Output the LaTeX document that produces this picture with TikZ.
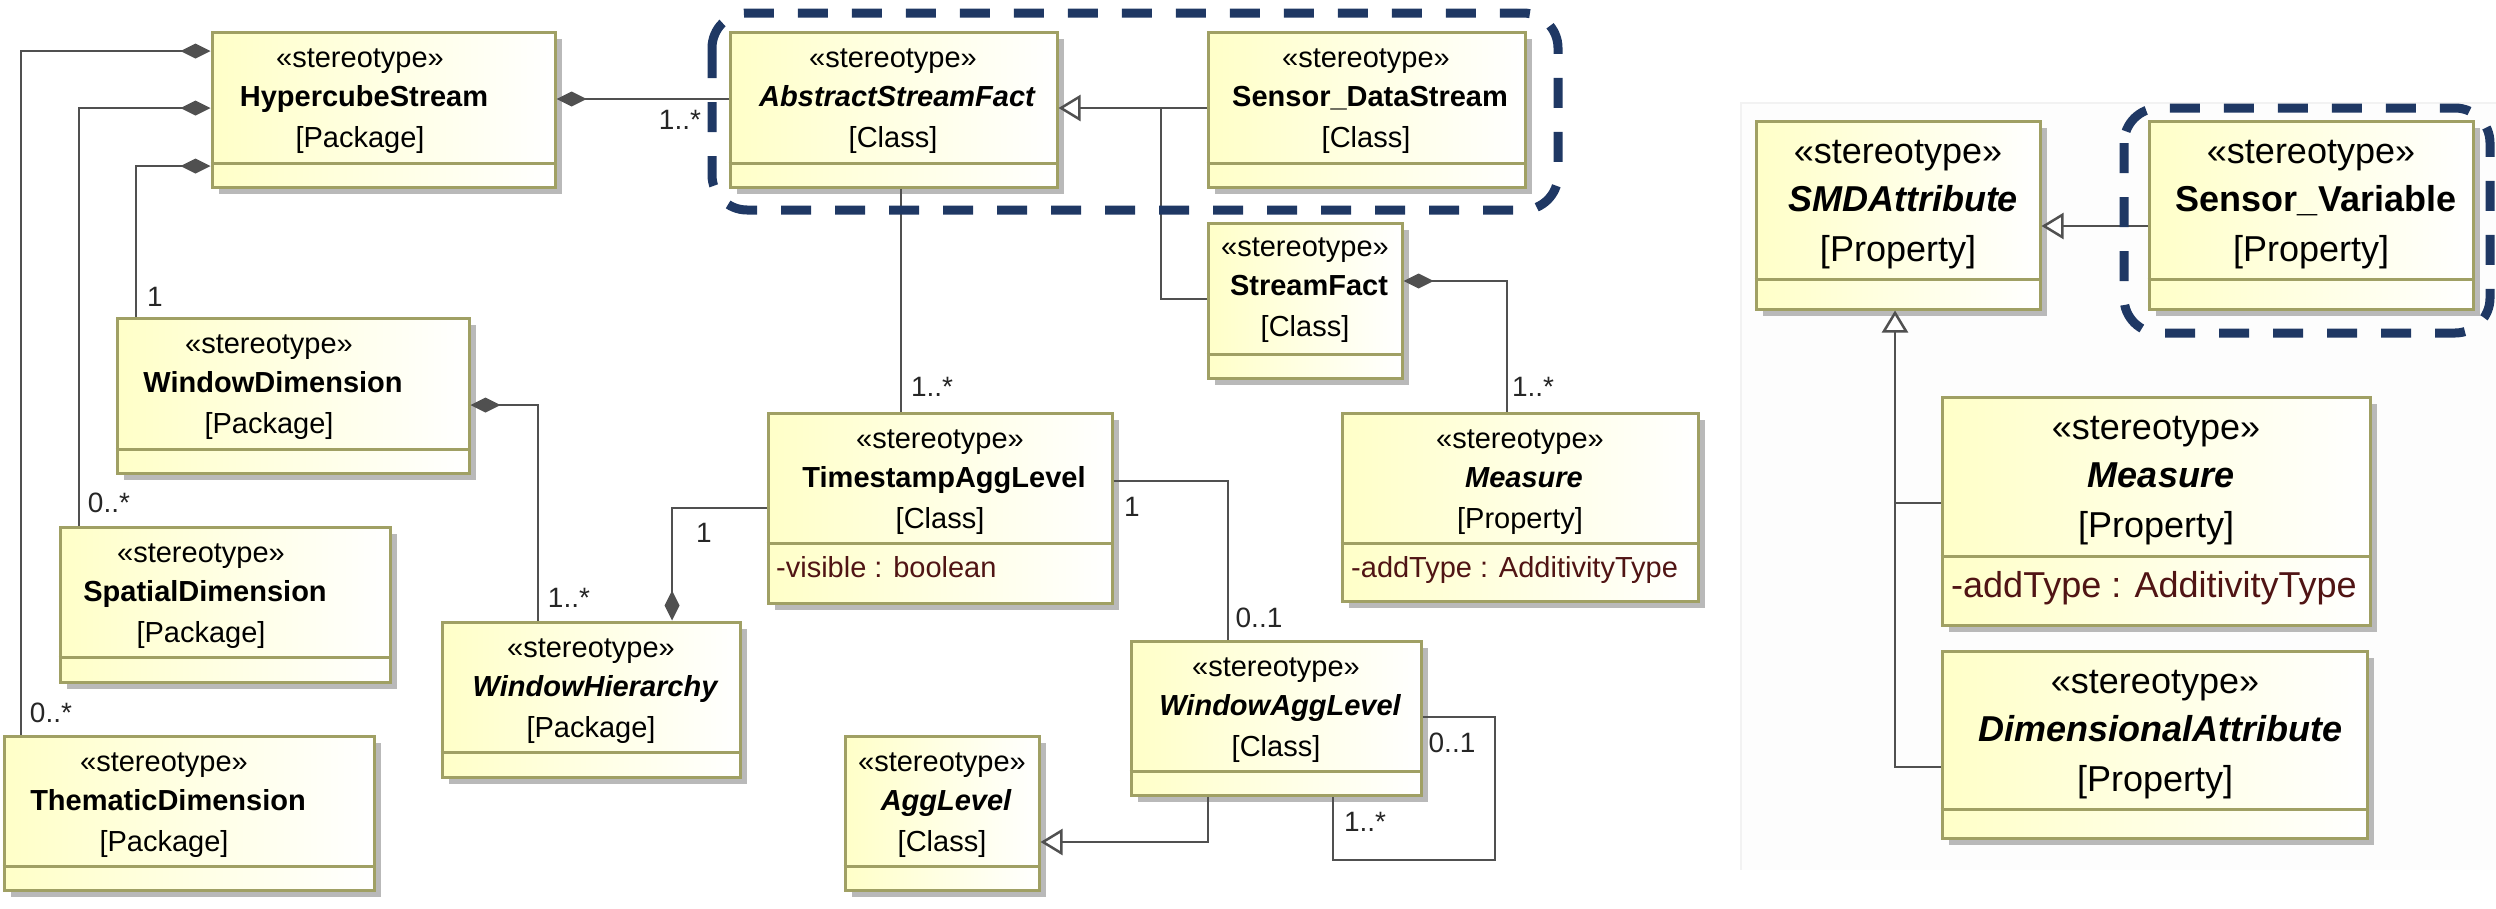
\documentclass[tikz,border=0pt]{standalone}
\usepackage{fontspec}
\setmainfont{Liberation Sans}
\usetikzlibrary{arrows.meta,shadows,fit}
\definecolor{boxyellow}{RGB}{255,255,200}
\definecolor{boxborder}{RGB}{160,160,100}
\definecolor{shadowgray}{RGB}{185,185,185}
\definecolor{linegray}{RGB}{80,80,80}
\definecolor{navy}{RGB}{31,56,100}
\definecolor{attrcolor}{RGB}{80,20,20}
\definecolor{panelgray}{RGB}{253,253,253}
\definecolor{paneledge}{RGB}{242,242,242}
\tikzset{
  umlbox/.style={draw=boxborder, line width=3pt, left color=boxyellow, right color=white, inner sep=0pt,
    drop shadow={shadow xshift=7pt, shadow yshift=-7pt, fill=shadowgray, opacity=1}},
  divider/.style={draw=boxborder, line width=3pt},
  ltxt/.style={font=\fontsize{29}{34}\selectfont, inner sep=0pt, text height=21pt, text depth=6pt, anchor=center},
  rtxt/.style={font=\fontsize{36}{42}\selectfont, inner sep=0pt, text height=26pt, text depth=8pt, anchor=center},
  conn/.style={draw=linegray, line width=2.5pt},
  comp/.style={conn, {Diamond[length=30pt,width=15pt,fill=linegray]}-},
  compend/.style={conn, -{Diamond[length=30pt,width=15pt,fill=linegray]}},
  gen/.style={conn, -{Triangle[open,length=22pt,width=26pt,fill=white]}},
  mult/.style={font=\fontsize{28}{32}\selectfont, inner sep=0pt, text=black!85},
  lattr/.style={ltxt, text=attrcolor, anchor=west},
  rattr/.style={rtxt, text=attrcolor, anchor=west},
  grp/.style={draw=navy, line width=9pt, dash pattern=on 30pt off 24pt, rounded corners=35pt},
}
\newcommand{\ltext}[6]{%
  \node[ltxt] (#1-st) at (#2,{#3+28}) {«stereotype»};
  \node[ltxt] (#1-nm) at (#2,{#3+67}) {#4 #5};
  \node[ltxt] (#1-ty) at (#2,{#3+108}) {[#6]};
}
\newcommand{\rtext}[6]{%
  \node[rtxt] (#1-st) at (#2,{#3+33}) {«stereotype»};
  \node[rtxt] (#1-nm) at (#2,{#3+81}) {#4 #5};
  \node[rtxt] (#1-ty) at (#2,{#3+131}) {[#6]};
}
\begin{document}
\begin{tikzpicture}[x=1pt,y=-1pt]
\useasboundingbox (0,0) rectangle (2496,908);
\fill[panelgray] (1741,103) rectangle (2496,870);
\draw[paneledge, line width=1.5pt] (1741,870) -- (1741,103) -- (2496,103);

% boxes
\node[umlbox, fit={(212,32) (555,187)}] (hs) {};
\draw[divider] (hs.west |- 0,163) -- (hs.east |- 0,163);
\ltext{hs}{360}{32}{\bfseries}{HypercubeStream}{Package}

\node[umlbox, fit={(730,32) (1057,187)}] (asf) {};
\draw[divider] (asf.west |- 0,163) -- (asf.east |- 0,163);
\ltext{asf}{893}{32}{\bfseries\itshape}{AbstractStreamFact}{Class}

\node[umlbox, fit={(1208,32) (1525,187)}] (sds) {};
\draw[divider] (sds.west |- 0,163) -- (sds.east |- 0,163);
\ltext{sds}{1366}{32}{\bfseries}{Sensor\_DataStream}{Class}

\node[umlbox, fit={(1208,223) (1402,378)}] (sf) {};
\draw[divider] (sf.west |- 0,354) -- (sf.east |- 0,354);
\ltext{sf}{1305}{221}{\bfseries}{StreamFact}{Class}

\node[umlbox, fit={(117,318) (469,473)}] (wd) {};
\draw[divider] (wd.west |- 0,449) -- (wd.east |- 0,449);
\ltext{wd}{269}{318}{\bfseries}{WindowDimension}{Package}

\node[umlbox, fit={(768,413) (1112,603)}] (tal) {};
\draw[divider] (tal.west |- 0,543) -- (tal.east |- 0,543);
\ltext{tal}{940}{413}{\bfseries}{TimestampAggLevel}{Class}
\node[lattr] (tal-at) at (776,570) {-visible : boolean};

\node[umlbox, fit={(1342,413) (1698,601)}] (mm) {};
\draw[divider] (mm.west |- 0,543) -- (mm.east |- 0,543);
\ltext{mm}{1520}{413}{\bfseries\itshape}{Measure}{Property}
\node[lattr] (mm-at) at (1351,570) {-addType : AdditivityType};

\node[umlbox, fit={(60,527) (390,682)}] (sd) {};
\draw[divider] (sd.west |- 0,657) -- (sd.east |- 0,657);
\ltext{sd}{201}{527}{\bfseries}{SpatialDimension}{Package}

\node[umlbox, fit={(442,622) (740,777)}] (wh) {};
\draw[divider] (wh.west |- 0,752) -- (wh.east |- 0,752);
\ltext{wh}{591}{622}{\bfseries\itshape}{WindowHierarchy}{Package}

\node[umlbox, fit={(1131,641) (1421,795)}] (wal) {};
\draw[divider] (wal.west |- 0,771) -- (wal.east |- 0,771);
\ltext{wal}{1276}{641}{\bfseries\itshape}{WindowAggLevel}{Class}

\node[umlbox, fit={(845,736) (1039,890)}] (al) {};
\draw[divider] (al.west |- 0,866) -- (al.east |- 0,866);
\ltext{al}{942}{736}{\bfseries\itshape}{AggLevel}{Class}

\node[umlbox, fit={(4,736) (374,890)}] (td) {};
\draw[divider] (td.west |- 0,866) -- (td.east |- 0,866);
\ltext{td}{164}{736}{\bfseries}{ThematicDimension}{Package}

% right panel
\node[umlbox, fit={(1756,121) (2040,309)}] (smd) {};
\draw[divider] (smd.west |- 0,279) -- (smd.east |- 0,279);
\rtext{smd}{1898}{121}{\bfseries\itshape}{SMDAttribute}{Property}

\node[umlbox, fit={(2149,121) (2473,309)}] (sv) {};
\draw[divider] (sv.west |- 0,279) -- (sv.east |- 0,279);
\rtext{sv}{2311}{121}{\bfseries}{Sensor\_Variable}{Property}

\node[umlbox, fit={(1942,397) (2370,625)}] (mr) {};
\draw[divider] (mr.west |- 0,556) -- (mr.east |- 0,556);
\rtext{mr}{2156}{397}{\bfseries\itshape}{Measure}{Property}
\node[rattr] (mr-at) at (1951,588) {-addType : AdditivityType};

\node[umlbox, fit={(1942,651) (2367,838)}] (da) {};
\draw[divider] (da.west |- 0,809) -- (da.east |- 0,809);
\rtext{da}{2155}{651}{\bfseries\itshape}{DimensionalAttribute}{Property}

% connectors
\draw[comp] (hs.west |- 0,51) -- (21,51) -- (td.north -| 21,0);
\draw[comp] (hs.west |- 0,108) -- (79,108) -- (sd.north -| 79,0);
\draw[comp] (hs.west |- 0,166) -- (136,166) -- (wd.north -| 136,0);
\draw[comp] (hs.east |- 0,99) -- (asf.west |- 0,99);
\draw[conn] (asf.south -| 901,0) -- (tal.north -| 901,0);
\draw[gen] (sds.west |- 0,108) -- (asf.east |- 0,108);
\draw[conn] (sf.west |- 0,299) -- (1161,299) -- (1161,108);
\draw[comp] (sf.east |- 0,281) -- (1507,281) -- (mm.north -| 1507,0);
\draw[comp] (wd.east |- 0,405) -- (538,405) -- (wh.north -| 538,0);
\draw[compend] (tal.west |- 0,508) -- (672,508) -- (wh.north -| 672,0);
\draw[conn] (tal.east |- 0,481) -- (1228,481) -- (wal.north -| 1228,0);
\draw[conn] (wal.east |- 0,717) -- (1495,717) -- (1495,860) -- (1333,860) -- (wal.south -| 1333,0);
\draw[gen] (wal.south -| 1208,0) -- (1208,842) -- (al.east |- 0,842);
\draw[gen] (sv.west |- 0,226) -- (smd.east |- 0,226);
\draw[gen] (mr.west |- 0,503) -- (1895,503) -- (smd.south -| 1895,0);
\draw[conn] (da.west |- 0,767) -- (1895,767) -- (1895,503);

% groups
\draw[grp] (712,13) rectangle (1558,210);
\draw[grp] (2124,108) rectangle (2490,333);

% multiplicities
\node[mult] (m1) at (680,120) {1..*};
\node[mult] (m2) at (155,297) {1};
\node[mult] (m3) at (109,503) {0..*};
\node[mult] (m4) at (51,713) {0..*};
\node[mult] (m5) at (569,598) {1..*};
\node[mult] (m6) at (704,533) {1};
\node[mult] (m7) at (932,387) {1..*};
\node[mult] (m8) at (1533,387) {1..*};
\node[mult] (m9) at (1132,507) {1};
\node[mult] (m10) at (1259,618) {0..1};
\node[mult] (m11) at (1452,743) {0..1};
\node[mult] (m12) at (1365,822) {1..*};
\end{tikzpicture}
\end{document}
